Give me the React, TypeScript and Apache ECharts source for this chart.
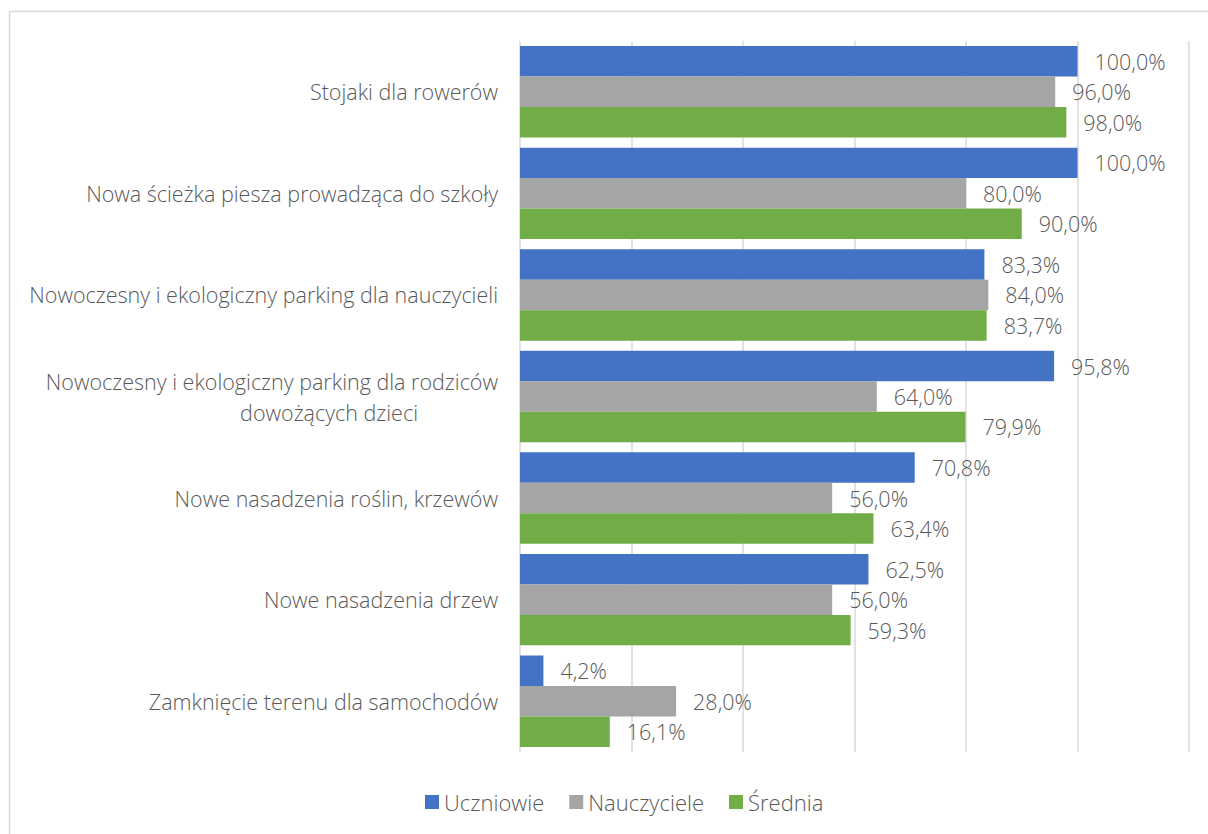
import React, { useEffect, useRef } from "react";
import * as echarts from "echarts";

const categories = [
  "Stojaki dla rowerów",
  "Nowa ścieżka piesza prowadząca do szkoły",
  "Nowoczesny i ekologiczny parking dla nauczycieli",
  "Nowoczesny i ekologiczny parking dla rodziców\ndowożących dzieci",
  "Nowe nasadzenia roślin, krzewów",
  "Nowe nasadzenia drzew",
  "Zamknięcie terenu dla samochodów",
];
const seriesNames = ["Uczniowie", "Nauczyciele", "Średnia"];
const uczniowie = [100, 100, 83.3, 95.8, 70.8, 62.5, 4.2];
const nauczyciele = [96, 80, 84, 64, 56, 56, 28];
const srednia = [98, 90, 83.7, 79.9, 63.4, 59.3, 16.1];
const colors = ["#4472C4", "#A5A5A5", "#70AD47"];

const FONT = "'Open Sans', 'Noto Sans', sans-serif";
const TXT = "#595959";
const FS = 21.5;

export default function App() {
  const ref = useRef<HTMLDivElement>(null);
  useEffect(() => {
    if (!ref.current) return;
    const chart = echarts.init(ref.current, null, { renderer: "svg" });
    const fmt = (p: any) => p.value.toFixed(1).replace(".", ",") + "%";
    const mk = (name: string, data: number[], color: string) => ({
      name,
      type: "bar",
      data,
      itemStyle: { color },
      barGap: "0%",
      barCategoryGap: "10%",
      label: {
        show: true,
        position: "right",
        distance: 17,
        formatter: fmt,
        color: TXT,
        fontSize: FS,
        fontFamily: FONT,
        fontWeight: 300,
      },
    });
    chart.setOption({
      animation: false,
      backgroundColor: "#ffffff",
      textStyle: { fontFamily: FONT },
      graphic: [
        {
          type: "rect",
          shape: { x: 9.5, y: 11.5, width: 1300, height: 900 },
          style: { fill: "none", stroke: "#d9d9d9", lineWidth: 1.5 },
          silent: true,
        },
      ],
      grid: { left: 520, right: 19, top: 41, bottom: 82, containLabel: false },
      xAxis: {
        type: "value",
        min: 0,
        max: 120,
        interval: 20,
        axisLabel: { show: false },
        axisLine: { show: false },
        axisTick: { show: false },
        splitLine: { show: true, lineStyle: { color: "#d9d9d9", width: 1.5 } },
      },
      yAxis: {
        type: "category",
        inverse: true,
        data: categories,
        axisLine: { show: false },
        axisTick: { show: false },
        axisLabel: {
          margin: 22,
          color: TXT,
          fontSize: FS,
          fontFamily: FONT,
          fontWeight: 300,
          lineHeight: 31,
          formatter: (v: string) => {
            const parts = v.split("\n");
            if (parts.length === 1) return v;
            return parts[0] + "\n{b|" + parts[1] + "}";
          },
          rich: {
            b: {
              color: TXT,
              fontSize: FS,
              fontFamily: FONT,
              fontWeight: 300,
              lineHeight: 31,
              padding: [0, 80, 0, 0],
            },
          },
        },
      },
      legend: {
        bottom: 16,
        left: 420,
        icon: "rect",
        itemWidth: 14,
        itemHeight: 14,
        itemGap: 25,
        textStyle: { color: TXT, fontSize: 22, fontFamily: FONT, fontWeight: 300 },
        data: seriesNames,
      },
      series: [
        mk(seriesNames[0], uczniowie, colors[0]),
        mk(seriesNames[1], nauczyciele, colors[1]),
        mk(seriesNames[2], srednia, colors[2]),
      ],
    });
    return () => chart.dispose();
  }, []);
  return (
    <div
      ref={ref}
      style={{ position: "fixed", left: 0, top: 0, width: 1208, height: 834 }}
    />
  );
}
